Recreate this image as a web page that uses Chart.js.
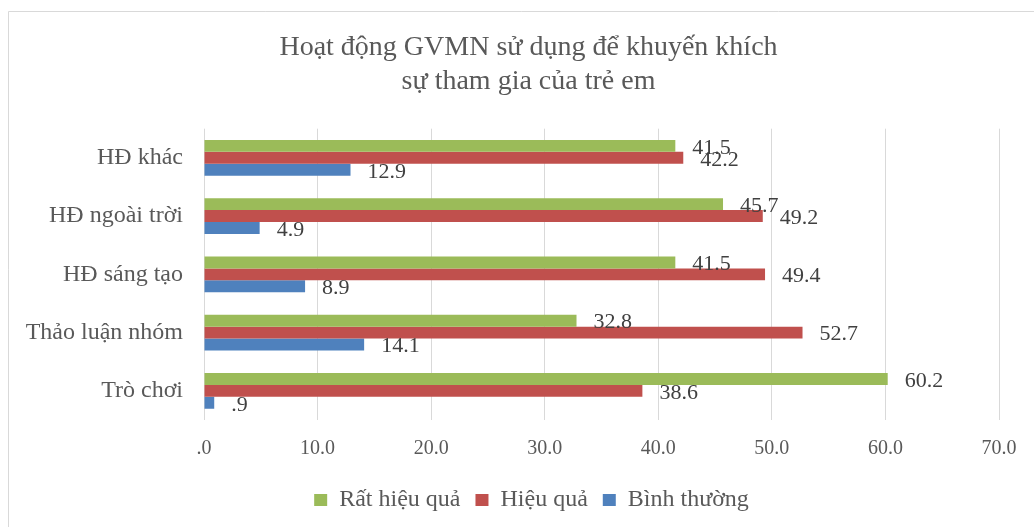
<!DOCTYPE html>
<html>
<head>
<meta charset="utf-8">
<script src="https://cdn.jsdelivr.net/npm/chart.js@4"></script>
<style>
  html, body { margin: 0; padding: 0; background: #fff; }
  #wrap { position: relative; width: 1034px; height: 527px; }
</style>
</head>
<body>
<div id="wrap"><canvas id="myChart" width="1034" height="527"></canvas></div>
<script>
// categories, top to bottom
const categories = ['HĐ khác', 'HĐ ngoài trời', 'HĐ sáng tạo', 'Thảo luận nhóm', 'Trò chơi'];
// series values
const ratHieuQua = [41.5, 45.7, 41.5, 32.8, 60.2];
const hieuQua = [42.2, 49.2, 49.4, 52.7, 38.6];
const binhThuong = [12.9, 4.9, 8.9, 14.1, 0.9];
// x axis ticks
const xTicks = [0, 10, 20, 30, 40, 50, 60, 70];

const serif = '"Liberation Serif", "Times New Roman", serif';

function fmt(v) {
  return v.toFixed(1).replace(/^0\./, '.');
}

// light frame round the chart, like the Excel chart area
const framePlugin = {
  id: 'frame',
  beforeDraw(chart) {
    const c = chart.ctx;
    c.save();
    c.fillStyle = '#fff';
    c.fillRect(0, 0, chart.width, chart.height);
    c.strokeStyle = '#d9d9d9';
    c.lineWidth = 1;
    c.beginPath();
    c.moveTo(8.5, chart.height + 2);
    c.lineTo(8.5, 11.5);
    c.lineTo(chart.width + 2, 11.5);
    c.stroke();
    c.restore();
  }
};

// Excel centres title and legend a bit more to the right
const shiftBoxes = {
  id: 'shiftBoxes',
  afterLayout(chart) {
    if (chart.titleBlock) {
      chart.titleBlock.left += 29;
      chart.titleBlock.right += 29;
    }
    if (chart.legend) {
      chart.legend.left += 32;
      chart.legend.right += 32;
    }
  }
};

// value labels at the end of each bar
const valueLabels = {
  id: 'valueLabels',
  afterDatasetsDraw(chart) {
    const c = chart.ctx;
    c.save();
    c.font = '22px ' + serif;
    c.fillStyle = '#404040';
    c.textAlign = 'left';
    c.textBaseline = 'middle';
    chart.data.datasets.forEach((ds, i) => {
      chart.getDatasetMeta(i).data.forEach((bar, j) => {
        c.fillText(fmt(ds.data[j]), bar.x + 17, bar.y + 2);
      });
    });
    c.restore();
  }
};

const ctx = document.getElementById('myChart').getContext('2d');
const myChart = new Chart(ctx, {
  type: 'bar',
  data: {
    labels: categories,
    datasets: [
      { label: 'Rất hiệu quả', data: ratHieuQua, backgroundColor: '#9BBB59' },
      { label: 'Hiệu quả', data: hieuQua, backgroundColor: '#C0504D' },
      { label: 'Bình thường', data: binhThuong, backgroundColor: '#4F81BD' }
    ]
  },
  options: {
    indexAxis: 'y',
    responsive: false,
    animation: false,
    categoryPercentage: 0.615,
    barPercentage: 1,
    layout: { padding: { left: 0, right: 35, top: 0, bottom: 5 } },
    plugins: {
      title: {
        display: true,
        text: ['Hoạt động GVMN sử dụng để khuyến khích', 'sự tham gia của trẻ em'],
        color: '#595959',
        font: { family: serif, size: 28, weight: 'normal', lineHeight: 1.2 },
        padding: { top: 31, bottom: 30.5 }
      },
      legend: {
        position: 'bottom',
        labels: {
          color: '#595959',
          font: { family: serif, size: 24 },
          boxWidth: 13,
          boxHeight: 12,
          padding: 15
        }
      },
      tooltip: { enabled: false }
    },
    scales: {
      x: {
        min: 0,
        max: 70,
        afterBuildTicks(scale) {
          scale.ticks = xTicks.map(v => ({ value: v }));
        },
        afterFit(scale) { scale.height = 53; },
        ticks: {
          color: '#595959',
          font: { family: serif, size: 20 },
          padding: 17,
          callback: v => fmt(v)
        },
        grid: { color: '#d9d9d9', drawTicks: false },
        border: { display: false }
      },
      y: {
        afterFit(scale) { scale.width = 204; },
        ticks: {
          color: '#595959',
          font: { family: serif, size: 24 },
          padding: 21
        },
        grid: { display: false, drawTicks: false },
        border: { display: false }
      }
    }
  },
  plugins: [framePlugin, shiftBoxes, valueLabels]
});
</script>
</body>
</html>
